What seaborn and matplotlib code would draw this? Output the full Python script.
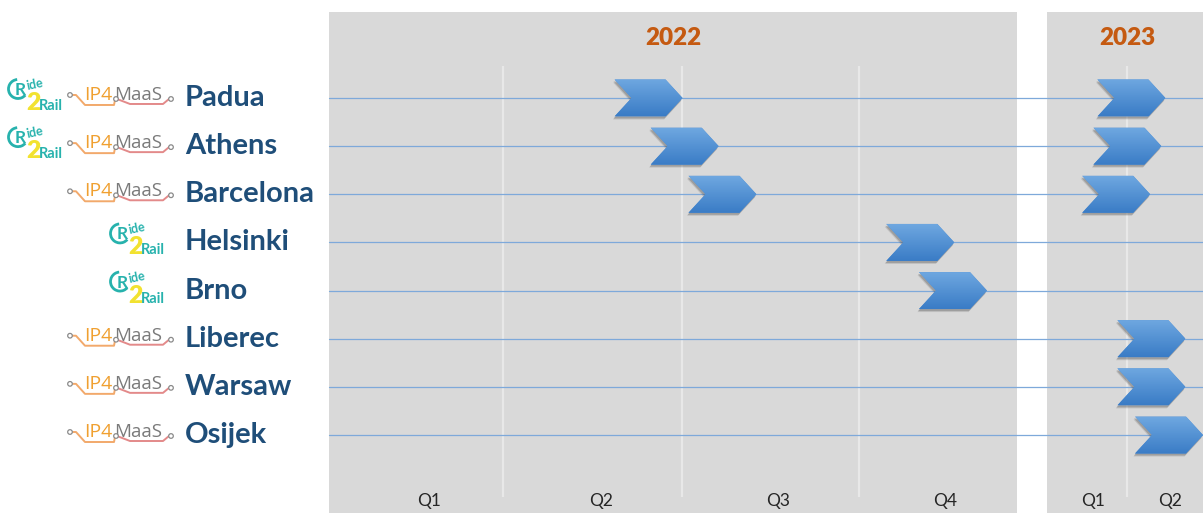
import numpy as np
import pandas as pd
import seaborn as sns
import matplotlib
matplotlib.use("Agg")
import matplotlib.pyplot as plt
from matplotlib import transforms
from matplotlib.patches import Polygon, Arc, Circle
from matplotlib.lines import Line2D

cities = ["Padua", "Athens", "Barcelona", "Helsinki", "Brno", "Liberec", "Warsaw", "Osijek"]
ride2rail = [True, True, False, True, True, False, False, False]
ip4maas = [True, True, True, False, False, True, True, True]
# chevron start, in quarters from the start of each year (None = no milestone)
start_2022 = [1.66, 1.87, 2.09, 3.24, 3.43, None, None, None]
start_2023 = [0.63, 0.58, 0.44, None, None, 0.88, 0.88, 1.10]
quarters_2022 = ["Q1", "Q2", "Q3", "Q4"]
quarters_2023 = ["Q1", "Q2"]
# quarter dividers and label centres as drawn in the picture
dividers_2022 = [1.01, 2.05, 3.08]
labels_at_2022 = [0.58, 1.58, 2.61, 3.58]
dividers_2023 = [1.0]
labels_at_2023 = [0.58, 1.54]

W, H = 1203, 513
GRAY = "#d9d9d9"
ROWLINE = "#7ea9da"
NAVY = "#1f4e79"
YEARC = "#c55a11"
TEAL = "#27b2ad"
YELLOW = "#f2e230"

sns.set_theme(style="white")
plt.rcParams["font.family"] = ["Lato", "DejaVu Sans"]

fig = plt.figure(figsize=(W / 100, H / 100), dpi=100)
fig.patch.set_facecolor("white")

ylim = (8.62, -1.786)
ax1 = fig.add_axes([329 / W, 0, (1017 - 329) / W, (H - 12) / H])
ax2 = fig.add_axes([1047 / W, 0, (W - 1047 + 2) / W, (H - 12) / H])

rows = np.arange(len(cities))


def chevron(ax, x0, row):
    trans = fig.dpi_scale_trans + transforms.ScaledTranslation(x0, row, ax.transData)
    w, h, d = 0.68, 0.185, 0.17
    verts = [(0, h), (w - d, h), (w, 0), (w - d, -h), (0, -h), (d, 0)]
    for off, a in [((-0.015, -0.03), 0.18), ((-0.01, -0.02), 0.3)]:
        sh = Polygon(verts, closed=True, facecolor="#505050", edgecolor="none", alpha=a,
                     transform=trans + transforms.ScaledTranslation(off[0], off[1], fig.dpi_scale_trans),
                     zorder=3)
        ax.add_patch(sh)
    poly = Polygon(verts, closed=True, facecolor="#4f8fd6", edgecolor="none",
                   transform=trans, zorder=4)
    ax.add_patch(poly)
    top = np.array(matplotlib.colors.to_rgb("#6ea7e0"))
    bot = np.array(matplotlib.colors.to_rgb("#3a7cc6"))
    t = np.linspace(0, 1, 64)[:, None]
    grad = (top * (1 - t) + bot * t)[:, None, :]
    im = ax.imshow(grad, extent=(0, w, -h, h), transform=trans, aspect="auto",
                   interpolation="bilinear", zorder=5)
    im.set_clip_path(poly)


def panel(ax, year, xmax, starts, dividers, qlabels, qpos, line_end, year_x):
    ax.set_facecolor(GRAY)
    for s in ax.spines.values():
        s.set_visible(False)
    ax.set_xticks([])
    ax.set_yticks([])
    lines = pd.DataFrame({
        "city": np.repeat(cities, 2),
        "x": np.tile([0.0, line_end], len(cities)),
        "row": np.repeat(rows, 2),
    })
    sns.lineplot(data=lines, x="x", y="row", units="city", estimator=None, ax=ax,
                 color=ROWLINE, lw=0.9, clip_on=False, zorder=2, legend=False)
    ax.vlines(dividers, -0.665, 8.29, color="#e8e8e8", lw=1.6, zorder=1)
    for q, xq in zip(qlabels, qpos):
        ax.text(xq, 8.47, q, ha="center", va="baseline", fontsize=12.5, color="#262626")
    ax.text(year_x, -1.10, year, ha="center", va="baseline",
            fontsize=17.5, fontweight="heavy", color=YEARC)
    for r, s in zip(rows, starts):
        if s is not None:
            chevron(ax, s, r)
    ax.set_xlim(0, xmax)
    ax.set_ylim(*ylim)
    ax.set_xlabel("")
    ax.set_ylabel("")


panel(ax1, "2022", 4.0, start_2022, dividers_2022, quarters_2022, labels_at_2022, 4.3, 2.0)
panel(ax2, "2023", (W - 1045) / 80, start_2023, dividers_2023, quarters_2023, labels_at_2023, 2.1, 1.0)

pix = transforms.IdentityTransform()


def ip4_logo(x0, yd):
    oc = "#f2a96b"
    pc = "#e38a8a"
    fig.add_artist(Line2D([x0 + 6, x0 + 10, x0 + 19, x0 + 48, x0 + 49],
                          [yd + 3, yd + 3, yd - 7, yd - 7, yd - 2],
                          color=oc, lw=1.4, transform=pix))
    fig.add_artist(Line2D([x0 + 51, x0 + 64, x0 + 97, x0 + 103],
                          [yd - 1, yd - 6, yd - 6, yd - 1],
                          color=pc, lw=1.4, transform=pix))
    for cx, cy in [(x0 + 4, yd + 3), (x0 + 50, yd - 1), (x0 + 105, yd - 1)]:
        fig.add_artist(Circle((cx, cy), 2.3, facecolor="white", edgecolor="#8a8a8a",
                              lw=0.9, transform=pix, zorder=5))
    fig.text((x0 + 18) / W, (yd - 2) / H, "IP4", fontsize=14, color="#f0a030",
             family=["Open Sans", "DejaVu Sans"], va="baseline", ha="left")
    fig.text((x0 + 48) / W, (yd - 2) / H, "MaaS", fontsize=13.5, color="#7a7a7a",
             family=["Open Sans", "DejaVu Sans"], va="baseline", ha="left")


def r2r_logo(x0, yd):
    fig.add_artist(Arc((x0 + 10, yd + 9), 19, 19, theta1=95, theta2=320,
                       color=TEAL, lw=2.0, transform=pix))
    fig.text((x0 + 7) / W, (yd + 3) / H, "R", fontsize=12.5, color=TEAL,
             fontweight="bold", va="baseline", ha="left")
    fig.text((x0 + 17) / W, (yd + 8) / H, "ide", fontsize=9, color=TEAL,
             fontweight="bold", va="baseline", ha="left", rotation=12)
    fig.text((x0 + 18) / W, (yd - 12) / H, "2", fontsize=18, color=YELLOW,
             fontweight="heavy", va="baseline", ha="left")
    fig.text((x0 + 31) / W, (yd - 12) / H, "Rail", fontsize=10.5, color=TEAL,
             fontweight="bold", va="baseline", ha="left")


for r, name, a, b in zip(rows, cities, ride2rail, ip4maas):
    yd = ax1.transData.transform((0, r))[1]
    fig.text(185 / W, (yd - 8) / H, name, fontsize=21, fontweight="bold",
             color=NAVY, va="baseline", ha="left")
    if b:
        ip4_logo(66, yd)
        if a:
            r2r_logo(8, yd)
    elif a:
        r2r_logo(110, yd)

fig.savefig("out.png", dpi=100)
